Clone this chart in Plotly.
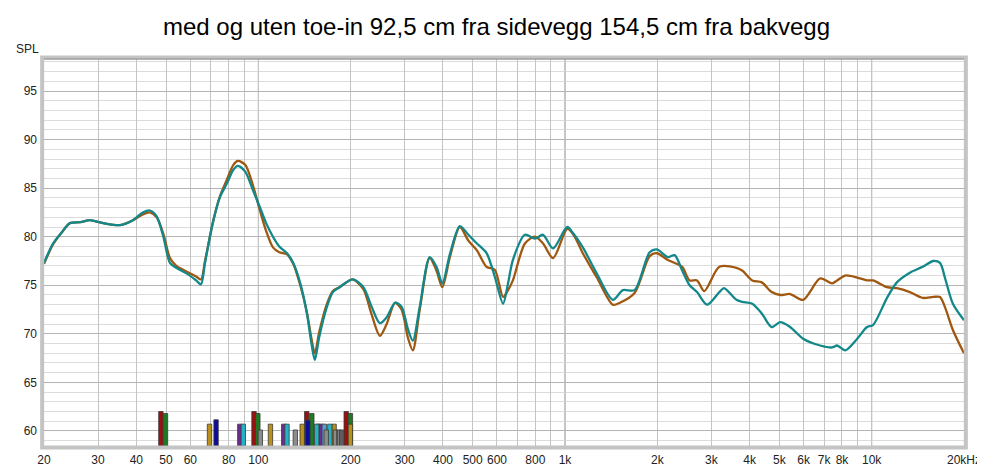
import numpy as np
import plotly.graph_objects as go

# frequency response, teal = uten toe-in, brown = med toe-in
freq_teal = [20, 21.4, 22.8, 24.3, 26.3, 28.2, 31.2, 35.4, 39, 42, 44.3, 46.6, 49, 51.5, 54, 58.5,
             62.7, 65, 67, 71, 75, 79, 82.9, 85.8, 90.6, 96, 101, 106, 111.6, 117, 124, 130, 137,
             144, 149, 152.8, 158, 167, 175, 184, 203, 220, 234, 249, 262, 279, 293, 308, 319,
             336, 362, 381, 398, 422, 454, 484, 516, 555, 590, 628, 652, 676, 740, 798, 848, 914,
             1017, 1066, 1143, 1270, 1432, 1544, 1686, 1888, 1992, 2166, 2278, 2412, 2548, 2694,
             2904, 3186, 3300, 3621, 3790, 4080, 4380, 4720, 5032, 5420, 5978, 6792, 7436, 7712,
             8200, 8972, 9660, 10100, 11220, 12080, 13320, 14660, 15880, 16700, 17360, 18400, 20000]
spl_teal = [77.3, 79.3, 80.4, 81.4, 81.5, 81.7, 81.4, 81.2, 81.7, 82.5, 82.7, 82.1, 80.0, 77.3, 76.8, 76.2,
            75.5, 75.1, 77.3, 81.4, 84.1, 85.5, 86.9, 87.3, 86.7, 84.8, 83.1, 81.4, 80.0, 79.0, 78.3, 77.3, 75.2,
            72.1, 69.0, 67.3, 69.7, 72.7, 74.3, 74.8, 75.6, 74.8, 72.8, 71.1, 71.7, 73.2, 72.8, 70.4, 69.3,
            72.8, 77.9, 76.9, 75.2, 78.3, 81.1, 80.2, 79.3, 78.3, 75.9, 73.1, 75.2, 77.6, 80.2, 79.8, 80.2, 78.8,
            81.0, 80.3, 78.9, 76.2, 73.5, 74.5, 74.5, 78.4, 78.7, 77.9, 78.1, 76.5, 75.0, 74.3,
            73.0, 74.3, 74.7, 73.5, 73.3, 73.1, 72.1, 70.7, 71.2, 70.7, 69.5, 68.8, 68.6, 68.8,
            68.3, 69.5, 70.7, 70.9, 73.7, 75.3, 76.3, 76.9, 77.5, 77.3, 75.7, 73.1, 71.4]

freq_brown = [20, 21.4, 22.8, 24.3, 26.3, 28.2, 31.2, 35.4, 39, 42, 44.3, 46.6, 49, 51.5, 54, 58.5,
              62.7, 65, 67, 71, 75, 79, 82.9, 85.8, 90.6, 96, 101, 106, 111.6, 117, 124, 130, 137,
              144, 149, 152.8, 158, 167, 175, 184, 203, 220, 234, 249, 262, 279, 293, 308, 319,
              336, 362, 381, 398, 422, 454, 484, 516, 555, 590, 628, 652, 676, 740, 798, 848, 914,
              1017, 1066, 1143, 1270, 1432, 1510, 1686, 1888, 1992, 2166, 2278, 2412, 2548, 2694,
              2846, 3186, 3621, 3790, 4080, 4380, 4720, 5032, 5420, 5978, 6792, 7436, 7712,
              8200, 8972, 9660, 10100, 11220, 12080, 13320, 14660, 15880, 16700, 17360, 18400, 20000]
spl_brown = [77.2, 79.2, 80.4, 81.4, 81.5, 81.7, 81.4, 81.2, 81.7, 82.3, 82.5, 82.0, 80.3, 77.8, 77.0, 76.4,
             75.9, 75.6, 77.5, 81.4, 84.2, 85.9, 87.4, 87.8, 87.4, 85.3, 82.8, 80.6, 78.9, 78.4, 78.2, 77.2, 75.0,
             72.2, 69.5, 68.0, 70.2, 73.0, 74.4, 74.8, 75.6, 74.6, 72.0, 69.8, 71.0, 73.2, 72.5, 69.5, 68.3,
             72.5, 77.8, 76.5, 74.8, 78.0, 81.0, 79.6, 78.6, 76.9, 76.6, 73.8, 74.5, 75.5, 79.3, 80.0, 79.3, 77.8,
             80.8, 80.2, 78.3, 75.8, 73.0, 73.2, 74.2, 78.0, 78.3, 77.6, 77.3, 76.9, 75.5, 75.5,
             74.4, 76.9, 76.8, 76.5, 75.5, 75.3, 74.3, 74.0, 74.1, 73.5, 75.7, 75.2, 75.5,
             76.0, 75.8, 75.5, 75.5, 74.8, 74.7, 74.3, 73.7, 73.8, 73.8, 72.7, 70.4, 68.0]

# markers along the bottom (frequency, level, colour group)
bar_freq = [48.1, 96.8, 143.8, 193.4,
            49.8, 99.6, 149.4, 199.6,
            72.8, 145,
            69.3, 109.5, 139, 157, 176.6, 199.6,
            87.0, 121, 160.6,
            89.3, 124, 155, 171,
            164,
            101.5, 132, 166.5, 178.4, 183,
            187]
bar_level = [62.0, 62.0, 62.0, 62.0,
             61.8, 61.8, 61.8, 61.8,
             61.15, 61.1,
             60.7, 60.7, 60.7, 60.7, 60.7, 60.7,
             60.7, 60.7, 60.7,
             60.7, 60.7, 60.7, 60.7,
             60.7,
             60.1, 60.1, 60.1, 60.1, 60.1,
             60.1]
bar_group = ['red'] * 4 + ['green'] * 4 + ['blue'] * 2 + ['gold'] * 6 + ['purple'] * 3 + \
            ['cyan'] * 4 + ['lightblue'] + ['gray'] * 5 + ['darkgray']

x_ticks = [20, 30, 40, 50, 60, 70, 80, 90, 100, 200, 300, 400, 500, 600, 700, 800, 900,
           1000, 2000, 3000, 4000, 5000, 6000, 7000, 8000, 9000, 10000, 20000]
x_labels = ['20', '30', '40', '50', '60', '', '80', '', '100', '200', '300', '400', '500', '600', '',
            '800', '', '1k', '2k', '3k', '4k', '5k', '6k', '7k', '8k', '', '10k', '20kHz']
y_ticks = [60, 65, 70, 75, 80, 85, 90, 95]

Y_MIN, Y_MAX = 58.45, 98.3
PX_PER_DECADE = 920 / 3.0
BAR_PX = 4.4

bar_colors = {
    'red': '#9c1010', 'green': '#1e7a22', 'blue': '#0c0c9c', 'gold': '#b8901c',
    'purple': '#6c2c90', 'cyan': '#22b4c4', 'lightblue': '#5a9ed6', 'gray': '#8c8c8c',
    'darkgray': '#5e5e5e',
}

fig = go.Figure()

# bars grouped by colour, drawn tallest first so shorter ones sit on top
half = 10 ** (BAR_PX / 2 / PX_PER_DECADE)
for key in bar_colors:
    xs, ys = [], []
    for f, lv, g in zip(bar_freq, bar_level, bar_group):
        if g != key:
            continue
        xs += [f / half, f * half, f * half, f / half, f / half, None]
        ys += [Y_MIN, Y_MIN, lv, lv, Y_MIN, None]
    fig.add_trace(go.Scatter(x=xs, y=ys, mode='lines', fill='toself',
                             fillcolor=bar_colors[key],
                             line=dict(color='#3a3a3a', width=0.8),
                             hoverinfo='skip', showlegend=False))

fig.add_trace(go.Scatter(x=freq_brown, y=spl_brown, mode='lines', name='med toe-in',
                         line=dict(color='#a0570f', width=2.3, shape='spline', smoothing=0.8)))
fig.add_trace(go.Scatter(x=freq_teal, y=spl_teal, mode='lines', name='uten toe-in',
                         line=dict(color='#13888a', width=2.3, shape='spline', smoothing=0.8)))

# darker decade lines
for f in [100, 1000, 10000]:
    fig.add_shape(type='line', xref='x', yref='paper', x0=f, x1=f, y0=0, y1=1,
                  line=dict(color='#8a8a8a', width=1), layer='below')

# frame around the plot
fig.add_shape(type='rect', xref='paper', yref='paper', x0=-0.002, x1=1.002, y0=-0.004, y1=1.004,
              line=dict(color='#c4c4c4', width=4), layer='above')
fig.add_shape(type='line', xref='paper', yref='paper', x0=0, x1=1, y0=1, y1=1,
              line=dict(color='#8c8c8c', width=1), layer='above')

fig.add_annotation(text='SPL', xref='paper', yref='paper', x=-0.003, y=1.026,
                   xanchor='right', yanchor='middle', showarrow=False,
                   font=dict(size=12, color='#222222'))

# the page body adds an 8px offset, so the figure is 8px smaller and margins shifted
fig.update_layout(
    width=977, height=462,
    title=dict(text='med og uten toe-in 92,5 cm fra sidevegg 154,5 cm fra bakvegg',
               x=0.5, xanchor='center', y=0.959, yanchor='middle',
               font=dict(size=24, family='Liberation Sans, Arial, sans-serif', color='#000000')),
    showlegend=False,
    plot_bgcolor='#ffffff',
    paper_bgcolor='#ffffff',
    margin=dict(l=36, r=21, t=51, b=24),
    font=dict(family='Liberation Sans, Arial, sans-serif', size=12, color='#222222'),
    xaxis=dict(
        type='log', range=[np.log10(20), np.log10(20000)],
        tickmode='array', tickvals=x_ticks, ticktext=x_labels,
        showgrid=True, gridcolor='#c4c4c4', gridwidth=1, automargin=False,
        zeroline=False, showline=False, ticks='', ticklabelstandoff=5,
    ),
    yaxis=dict(
        range=[Y_MIN, Y_MAX],
        tickmode='array', tickvals=y_ticks, automargin=False,
        showgrid=True, gridcolor='#b4b4b4', gridwidth=1,
        minor=dict(dtick=1, tick0=0, showgrid=True, gridcolor='#dcdcdc', gridwidth=1),
        zeroline=False, showline=False, ticks='', ticklabelstandoff=6,
    ),
)

fig.write_html('out.html')
